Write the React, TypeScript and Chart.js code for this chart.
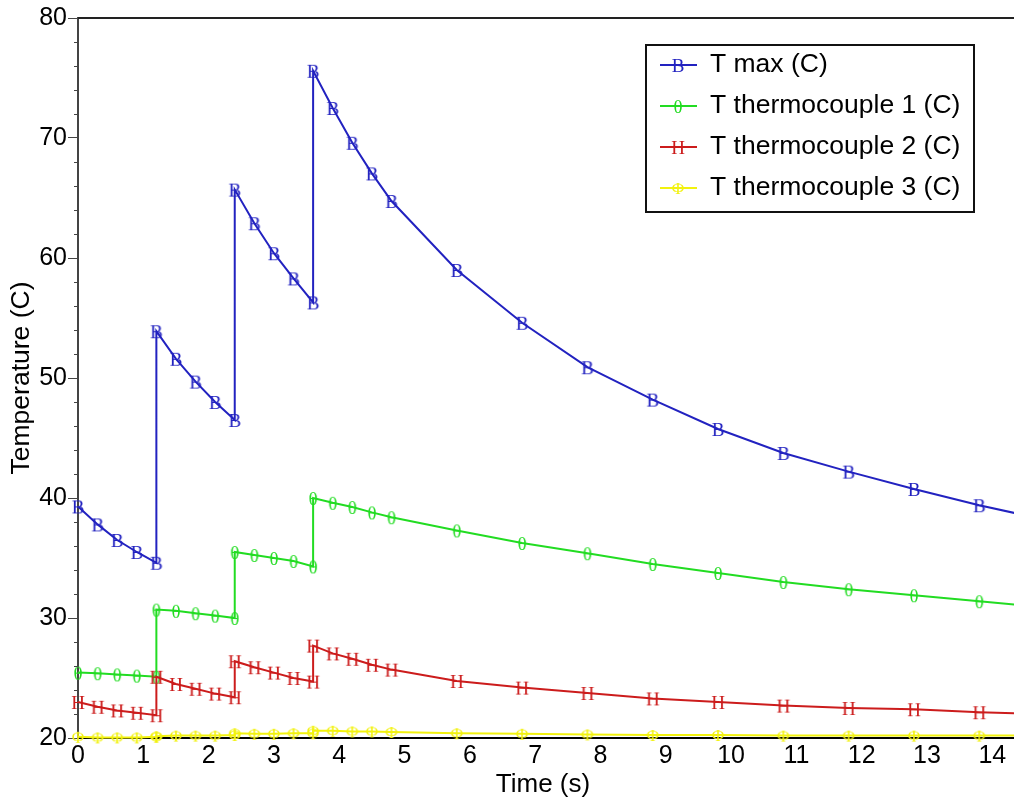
import React, { useEffect, useRef } from "react";
import { Chart, registerables } from "chart.js";

Chart.register(...registerables);

// Time samples (s); each heating step appears twice (before / after the jump)
const times = [
  0, 0.3, 0.6, 0.9, 1.2,
  1.2, 1.5, 1.8, 2.1, 2.4,
  2.4, 2.7, 3.0, 3.3, 3.6,
  3.6, 3.9, 4.2, 4.5, 4.8,
  5.8, 6.8, 7.8, 8.8, 9.8, 10.8, 11.8, 12.8, 13.8, 14.8,
];

const tMax = [
  39.3, 37.8, 36.5, 35.5, 34.6,
  53.9, 51.6, 49.7, 48.0, 46.5,
  65.7, 62.9, 60.4, 58.3, 56.3,
  75.6, 72.5, 69.6, 67.05, 64.75,
  59.0, 54.6, 50.9, 48.2, 45.75, 43.75, 42.2, 40.75, 39.4, 38.2,
];

const thermo1 = [
  25.45, 25.4, 25.3, 25.2, 25.1,
  30.7, 30.6, 30.4, 30.2, 30.0,
  35.5, 35.25, 35.0, 34.75, 34.3,
  40.0, 39.6, 39.25, 38.8, 38.4,
  37.3, 36.25, 35.4, 34.5, 33.75, 33.0, 32.4, 31.9, 31.4, 30.9,
];

const thermo2 = [
  23.0, 22.6, 22.3, 22.1, 21.9,
  25.1, 24.5, 24.1, 23.7, 23.4,
  26.4, 25.9, 25.45, 25.0, 24.7,
  27.7, 27.05, 26.6, 26.1, 25.7,
  24.75, 24.2, 23.75, 23.3, 23.0, 22.7, 22.5, 22.4, 22.15, 22.0,
];

const thermo3 = [
  20.1, 20.05, 20.05, 20.05, 20.1,
  20.15, 20.2, 20.2, 20.2, 20.25,
  20.4, 20.35, 20.35, 20.4, 20.4,
  20.6, 20.6, 20.55, 20.55, 20.5,
  20.4, 20.35, 20.3, 20.25, 20.25, 20.2, 20.2, 20.2, 20.2, 20.2,
];

const seriesLabels = [
  "T max (C)",
  "T thermocouple 1 (C)",
  "T thermocouple 2 (C)",
  "T thermocouple 3 (C)",
];
const seriesColors = ["#2222c0", "#22dc22", "#cc1c1c", "#f2f20e"];
const markerChars = ["B", "θ", "H", "Φ"];

const xMin = 0;
const xMax = 14.24;
const yMin = 20;
const yMax = 80;

const SANS = '"Liberation Sans", Arial, Helvetica, sans-serif';

function makeMarker(ch: string, color: string, size: number): HTMLCanvasElement {
  const c = document.createElement("canvas");
  c.width = 24;
  c.height = 24;
  const ctx = c.getContext("2d")!;
  ctx.font = `${size}px "Liberation Serif", "DejaVu Serif", serif`;
  ctx.fillStyle = color;
  ctx.textAlign = "center";
  ctx.textBaseline = "alphabetic";
  const m = ctx.measureText(ch);
  const asc = m.actualBoundingBoxAscent || size * 0.66;
  const desc = m.actualBoundingBoxDescent || 0;
  const y = 12 + (asc - desc) / 2;
  ctx.fillText(ch, 12, y);
  return c;
}

export default function App() {
  const ref = useRef<HTMLCanvasElement>(null);

  useEffect(() => {
    if (!ref.current) return;
    const markers = [
      makeMarker(markerChars[0], seriesColors[0], 19),
      makeMarker(markerChars[1], seriesColors[1], 19),
      makeMarker(markerChars[2], seriesColors[2], 19),
      makeMarker(markerChars[3], seriesColors[3], 17),
    ];
    const allSeries = [tMax, thermo1, thermo2, thermo3];

    const datasets = allSeries.map((vals, i) => ({
      label: seriesLabels[i],
      data: times.map((t, j) => ({ x: t, y: vals[j] })),
      borderColor: seriesColors[i],
      backgroundColor: seriesColors[i],
      borderWidth: 2,
      pointStyle: markers[i] as any,
      pointRadius: 4,
      tension: 0,
      clip: false as any,
      order: 4 - i,
    }));

    const decorPlugin = {
      id: "decor",
      afterDraw(chart: any) {
        const { ctx, chartArea, scales } = chart;
        const ys = scales.y;
        ctx.save();
        // top frame line
        ctx.strokeStyle = "#222";
        ctx.lineWidth = 2;
        ctx.beginPath();
        ctx.moveTo(chartArea.left, chartArea.top);
        ctx.lineTo(chart.width, chartArea.top);
        ctx.stroke();
        // bottom axis extension to the picture edge
        ctx.strokeStyle = "#000";
        ctx.beginPath();
        ctx.moveTo(chartArea.right - 1, chartArea.bottom);
        ctx.lineTo(chart.width, chartArea.bottom);
        ctx.stroke();
        // minor y ticks
        ctx.strokeStyle = "#444";
        ctx.lineWidth = 1;
        for (let v = yMin; v <= yMax; v += 2) {
          if (v % 10 === 0) continue;
          const py = Math.round(ys.getPixelForValue(v)) + 0.5;
          ctx.beginPath();
          ctx.moveTo(chartArea.left - 4, py);
          ctx.lineTo(chartArea.left, py);
          ctx.stroke();
        }
        // legend box
        const bx = 646;
        const by = 45;
        const bw = 328;
        const bh = 167;
        ctx.fillStyle = "#fff";
        ctx.fillRect(bx, by, bw, bh);
        ctx.strokeStyle = "#111";
        ctx.lineWidth = 2;
        ctx.strokeRect(bx, by, bw, bh);
        chart.data.datasets.forEach((ds: any, i: number) => {
          const ry = by + 20 + i * 41;
          ctx.strokeStyle = ds.borderColor;
          ctx.lineWidth = 2;
          ctx.beginPath();
          ctx.moveTo(bx + 14, ry);
          ctx.lineTo(bx + 51, ry);
          ctx.stroke();
          const mk = markers[i];
          ctx.drawImage(mk, bx + 32 - mk.width / 2, ry - mk.height / 2);
          ctx.fillStyle = "#000";
          ctx.font = `26.5px ${SANS}`;
          ctx.textBaseline = "middle";
          ctx.textAlign = "left";
          ctx.fillText(ds.label, bx + 64, ry);
        });
        ctx.restore();
      },
    };

    const chart = new Chart(ref.current, {
      type: "line",
      data: { datasets },
      options: {
        animation: false,
        responsive: false,
        maintainAspectRatio: false,
        layout: { padding: { top: 18, right: 0, bottom: 0, left: 0 } },
        plugins: {
          legend: { display: false },
          tooltip: { enabled: false },
          title: { display: false },
        },
        scales: {
          x: {
            type: "linear",
            min: xMin,
            max: xMax,
            grid: { display: false, drawTicks: false },
            border: { display: true, color: "#000", width: 2 },
            ticks: {
              stepSize: 1,
              includeBounds: false,
              autoSkip: false,
              maxRotation: 0,
              padding: 3,
              color: "#000",
              font: { family: SANS, size: 25 },
            },
            title: {
              display: true,
              text: "Time (s)",
              color: "#000",
              font: { family: SANS, size: 26 },
              padding: { top: 0, bottom: 4 },
            },
            afterFit: (s: any) => {
              s.height = 66;
              s.paddingLeft = 0;
              s.paddingRight = 0;
            },
          },
          y: {
            type: "linear",
            min: yMin,
            max: yMax,
            grid: {
              drawOnChartArea: false,
              drawTicks: true,
              tickLength: 10,
              color: "#444",
              lineWidth: 1,
            },
            border: { display: true, color: "#444", width: 2 },
            ticks: {
              stepSize: 10,
              padding: 1,
              color: "#000",
              font: { family: SANS, size: 25 },
            },
            title: {
              display: true,
              text: "Temperature (C)",
              color: "#000",
              font: { family: SANS, size: 26.5 },
              padding: { top: 6, bottom: 0 },
            },
            afterFit: (s: any) => {
              s.width = 78;
              s.paddingTop = 0;
              s.paddingBottom = 0;
            },
          },
        },
      },
      plugins: [decorPlugin],
    });

    return () => chart.destroy();
  }, []);

  return (
    <div
      style={{
        position: "fixed",
        left: 0,
        top: 0,
        width: 1014,
        height: 804,
        background: "#fff",
      }}
    >
      <canvas ref={ref} width={1014} height={804} style={{ width: 1014, height: 804 }} />
    </div>
  );
}
